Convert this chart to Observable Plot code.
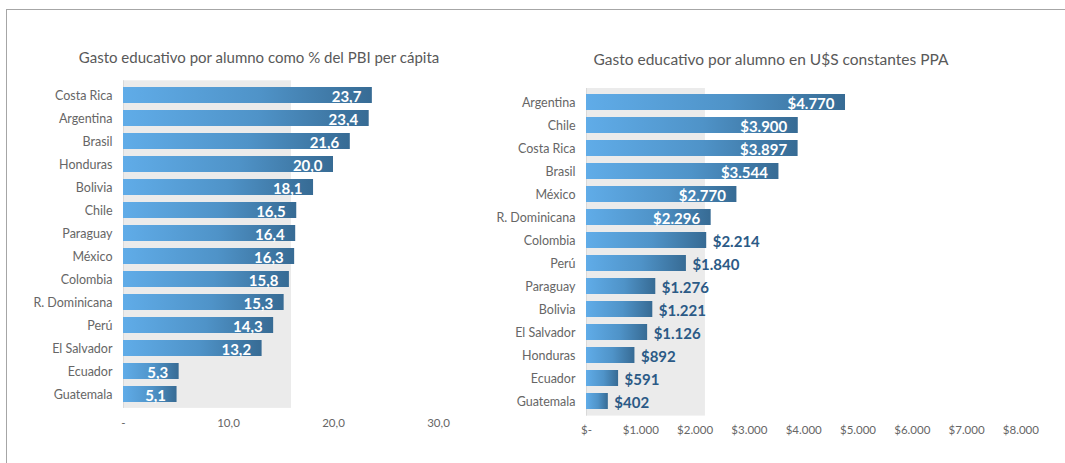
<!DOCTYPE html>
<html><head><meta charset="utf-8">
<script src="https://cdn.jsdelivr.net/npm/d3@7"></script>
<script src="https://cdn.jsdelivr.net/npm/@observablehq/plot@0.6"></script>
<style>
body{margin:0;background:#fff;font-family:Lato,sans-serif;}
#wrap{position:relative;width:1065px;height:463px;overflow:hidden;background:#fff;}
#frame{position:absolute;left:6px;top:9px;width:1200px;height:600px;border:1px solid #a6a6a6;box-sizing:border-box;}
.title{position:absolute;transform:translate(-50%,-50%);white-space:nowrap;font-size:15px;color:#595959;font-weight:400;}
.chart{position:absolute;top:0;}
.chart svg text{font-weight:400;}
</style></head><body>
<div id="wrap"><div id="frame"></div>
<div class="title" style="left:259px;top:57px">Gasto educativo por alumno como % del PBI per cápita</div>
<div class="title" style="left:771px;top:59px;font-size:15.5px">Gasto educativo por alumno en U$S constantes PPA</div>
<div id="c1" class="chart" style="left:0"></div>
<div id="c2" class="chart" style="left:480px"></div>
</div>
<script>
// ---- Data: left chart (% del PBI per cápita)
const paisesPBI = ["Costa Rica","Argentina","Brasil","Honduras","Bolivia","Chile","Paraguay","México","Colombia","R. Dominicana","Perú","El Salvador","Ecuador","Guatemala"];
const valoresPBI = [23.7,23.4,21.6,20.0,18.1,16.5,16.4,16.3,15.8,15.3,14.3,13.2,5.3,5.1];
const fondoPBI = 16.0;
const ticksPBI = [0,10,20,30];
const tickLabelsPBI = ["-","10,0","20,0","30,0"];

// ---- Data: right chart (U$S constantes PPA)
const paisesUSD = ["Argentina","Chile","Costa Rica","Brasil","México","R. Dominicana","Colombia","Perú","Paraguay","Bolivia","El Salvador","Honduras","Ecuador","Guatemala"];
const valoresUSD = [4770,3900,3897,3544,2770,2296,2214,1840,1276,1221,1126,892,591,402];
const fondoUSD = 2190;
const ticksUSD = [0,1000,2000,3000,4000,5000,6000,7000,8000];
const tickLabelsUSD = ["$-","$1.000","$2.000","$3.000","$4.000","$5.000","$6.000","$7.000","$8.000"];

const loc = d3.formatLocale({decimal:",", thousands:".", grouping:[3], currency:["$",""]});
const fmtUSD = loc.format("$,d");
const fmtPBI = v => v.toFixed(1).replace(".", ",");

const dataPBI = paisesPBI.map((p,i)=>({pais:p, v:valoresPBI[i]}));
const dataUSD = paisesUSD.map((p,i)=>({pais:p, v:valoresUSD[i]}));

function addGradient(svg, id){
  const ns = "http://www.w3.org/2000/svg";
  const defs = document.createElementNS(ns,"defs");
  const g = document.createElementNS(ns,"linearGradient");
  g.setAttribute("id", id);
  g.setAttribute("x1","0"); g.setAttribute("x2","1"); g.setAttribute("y1","0"); g.setAttribute("y2","0");
  [["0%","#60ace8"],["55%","#4f93c8"],["100%","#376b94"]].forEach(([o,c])=>{
    const s = document.createElementNS(ns,"stop");
    s.setAttribute("offset",o); s.setAttribute("stop-color",c);
    g.appendChild(s);
  });
  defs.appendChild(g);
  svg.insertBefore(defs, svg.firstChild);
}

const common = {
  height: 463,
  style: {fontFamily: "Lato, sans-serif", fontSize: "12px", color: "#666666", background: "transparent", overflow: "visible"}
};

const valueStyle = {fontWeight: "bold", fontSize: 15, dy: 1.5};

const chart1 = Plot.plot({
  ...common,
  width: 480,
  marginLeft: 123, marginRight: 42, marginTop: 80.3, marginBottom: 55.1,
  x: {domain: [0,30]},
  y: {domain: paisesPBI, paddingInner: 0.32, paddingOuter: 0.16},
  marks: [
    Plot.rect([fondoPBI], {x1: 0, x2: d => d, fill: "#ebebeb"}),
    Plot.ruleX([0], {stroke: "#d9d9d9"}),
    Plot.barX(dataPBI, {x: "v", y: "pais", fill: "url(#gradL)"}),
    Plot.axisY({tickSize: 0, tickPadding: 11, fontSize: 12.5, label: null}),
    Plot.axisX({ticks: ticksPBI, tickFormat: d => tickLabelsPBI[ticksPBI.indexOf(d)], tickSize: 0, tickPadding: 10, fontSize: 11.5, label: null}),
    Plot.text(dataPBI, {x: "v", y: "pais", text: d => fmtPBI(d.v), textAnchor: "end", dx: -11, fill: "white", ...valueStyle})
  ]
});
addGradient(chart1, "gradL");
document.getElementById("c1").appendChild(chart1);

const chart2 = Plot.plot({
  ...common,
  width: 585,
  marginLeft: 106, marginRight: 44.6, marginTop: 88, marginBottom: 47.4,
  x: {domain: [0,8000]},
  y: {domain: paisesUSD, paddingInner: 0.32, paddingOuter: 0.16},
  marks: [
    Plot.rect([fondoUSD], {x1: 0, x2: d => d, fill: "#ebebeb"}),
    Plot.ruleX([0], {stroke: "#d9d9d9"}),
    Plot.barX(dataUSD, {x: "v", y: "pais", fill: "url(#gradR)"}),
    Plot.axisY({tickSize: 0, tickPadding: 11, fontSize: 12.5, label: null}),
    Plot.axisX({ticks: ticksUSD, tickFormat: d => tickLabelsUSD[ticksUSD.indexOf(d)], tickSize: 0, tickPadding: 10, fontSize: 11.5, label: null}),
    Plot.text(dataUSD.filter(d => d.v > 2250), {x: "v", y: "pais", text: d => fmtUSD(d.v), textAnchor: "end", dx: -11, fill: "white", ...valueStyle}),
    Plot.text(dataUSD.filter(d => d.v <= 2250), {x: "v", y: "pais", text: d => fmtUSD(d.v), textAnchor: "start", dx: 6, fill: "#2b5a86", ...valueStyle})
  ]
});
addGradient(chart2, "gradR");
document.getElementById("c2").appendChild(chart2);
// keep value labels bold (CSS rule above sets axis text regular)
document.querySelectorAll(".chart svg g[aria-label='text'] text").forEach(t => t.style.fontWeight = "bold");
</script>
</body></html>
